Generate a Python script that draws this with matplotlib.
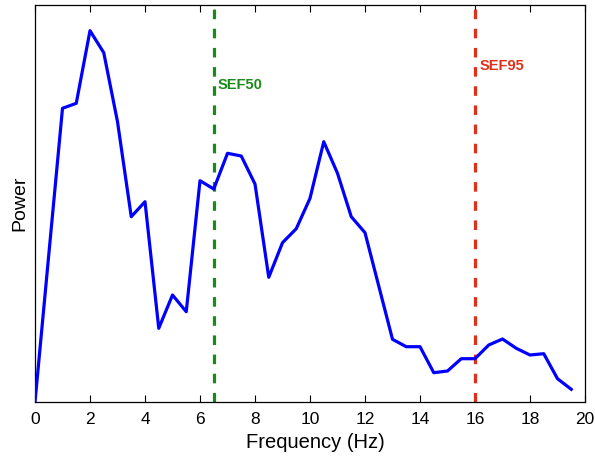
import matplotlib
matplotlib.use('Agg')
import matplotlib.pyplot as plt

plt.rcParams['font.family'] = ['Liberation Sans', 'DejaVu Sans']

# power spectrum, 0.5 Hz bins (arbitrary units)
freq = [i * 0.5 for i in range(40)]
power = [0, 147, 293.7, 298.7, 371.3, 349.3, 280.3, 185.3, 200.3, 73.7,
         107, 90.3, 221.3, 213, 248.7, 246, 218, 124.7, 159.3, 173.3,
         203.7, 260.3, 228.7, 185.3, 169.3, 116, 62.7, 55.3, 55.3, 29.3,
         31, 43.3, 43.3, 57, 63, 53.7, 47, 48.3, 23.3, 12.7]

sef50 = 6.5
sef95 = 16
xticks = list(range(0, 21, 2))

fig = plt.figure(figsize=(5.95, 4.66), dpi=100)
ax = fig.add_axes([35/595, 1 - 402/466, 550/595, 397/466])

ax.plot(freq, power, color='#0000ff', lw=2.3, zorder=3)
ax.axvline(sef50, color='#1a8a1a', lw=2.3, ls=(0, (3, 3)), zorder=2)
ax.axvline(sef95, color='#e0301a', lw=2.3, ls=(0, (3, 3)), zorder=2)
ax.text(sef50 + 0.15, 317, 'SEF50', color='#1a8a1a', fontsize=10.5,
        fontweight='bold', va='center', ha='left')
ax.text(sef95 + 0.15, 336, 'SEF95', color='#e0301a', fontsize=10.5,
        fontweight='bold', va='center', ha='left')

ax.set_xlim(0, 20)
ax.set_ylim(0, 397)
ax.set_xticks(xticks)
ax.set_yticks([])
ax.tick_params(axis='x', direction='in', top=True, length=5, width=0.8,
               labelsize=12.5, pad=7)
for s in ax.spines.values():
    s.set_linewidth(0.9)

ax.set_xlabel('Frequency (Hz)', fontsize=14.5)
ax.xaxis.set_label_coords(0.509, -0.078)
ax.set_ylabel('Power', fontsize=14)
ax.yaxis.set_label_coords(-0.012, 0.5)

fig.savefig('out.png', dpi=100)
